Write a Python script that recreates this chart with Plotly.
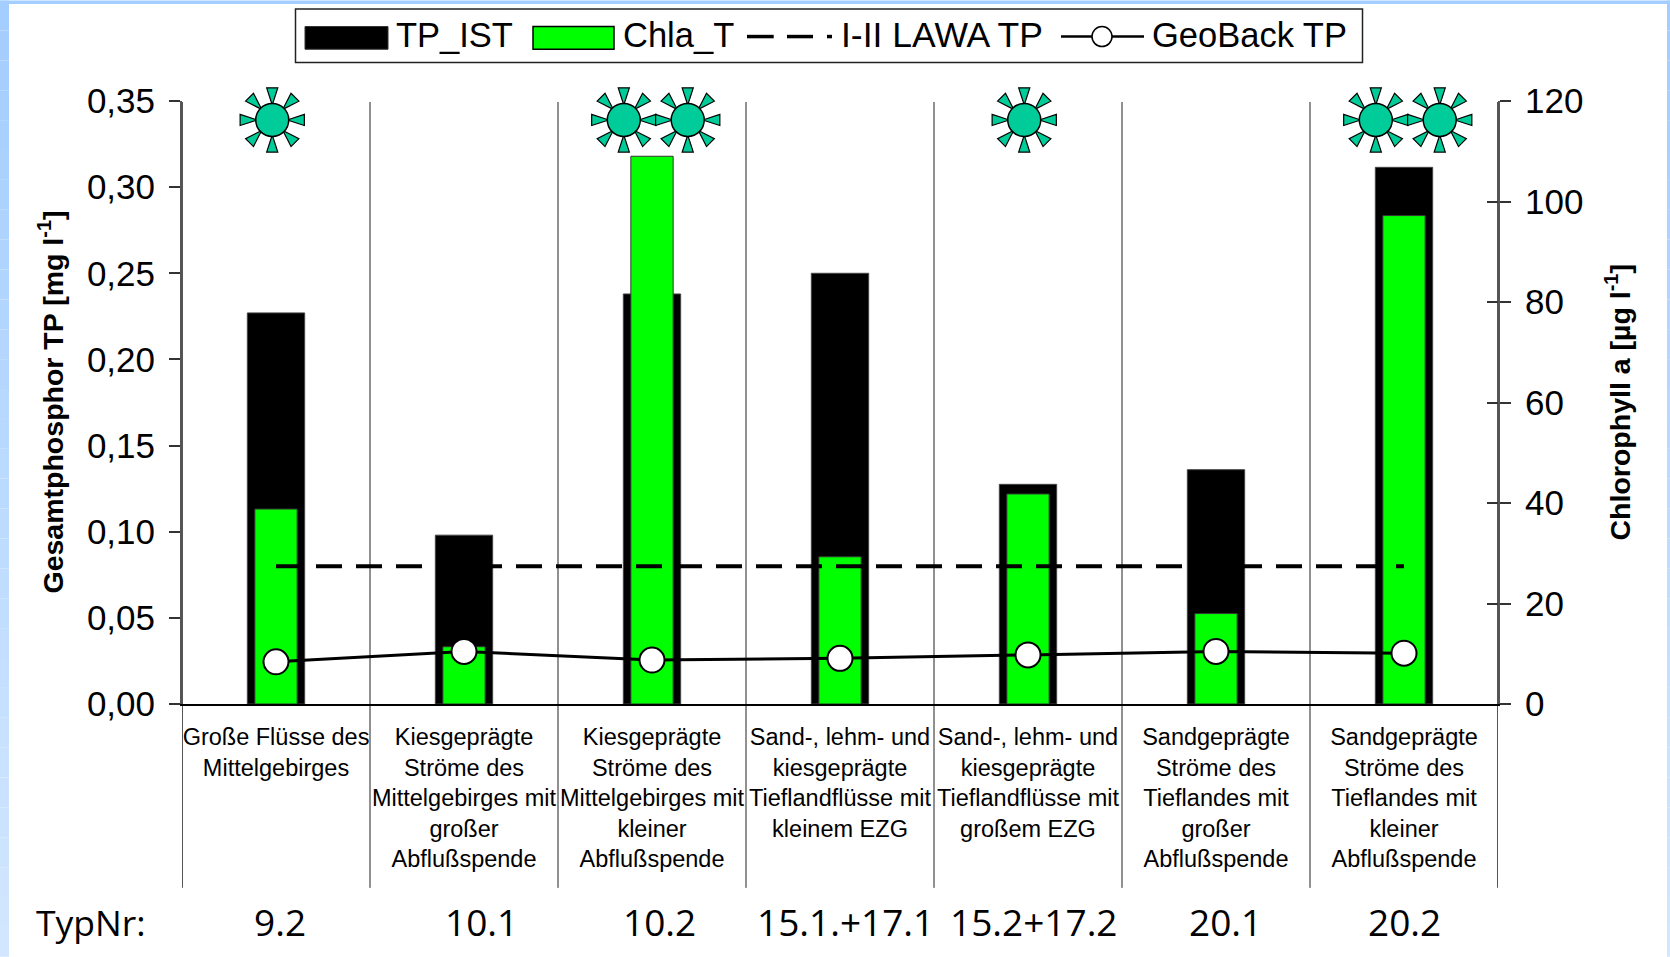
import plotly.graph_objects as go

categories = [
    "Große Flüsse des<br>Mittelgebirges",
    "Kiesgeprägte<br>Ströme des<br>Mittelgebirges mit<br>großer<br>Abflußspende",
    "Kiesgeprägte<br>Ströme des<br>Mittelgebirges mit<br>kleiner<br>Abflußspende",
    "Sand-, lehm- und<br>kiesgeprägte<br>Tieflandflüsse mit<br>kleinem EZG",
    "Sand-, lehm- und<br>kiesgeprägte<br>Tieflandflüsse mit<br>großem EZG",
    "Sandgeprägte<br>Ströme des<br>Tieflandes mit<br>großer<br>Abflußspende",
    "Sandgeprägte<br>Ströme des<br>Tieflandes mit<br>kleiner<br>Abflußspende",
]
typ_nr = ["9.2", "10.1", "10.2", "15.1.+17.1", "15.2+17.2", "20.1", "20.2"]
typ_nr_x = [280, 481, 659, 845, 1034, 1225, 1404]
tp_ist = [0.227, 0.098, 0.238, 0.250, 0.1275, 0.136, 0.3115]
chla_t = [38.8, 11.4, 109.0, 29.3, 41.8, 18.0, 97.2]
lawa_tp = [0.08] * 7
geoback_tp = [0.0245, 0.0305, 0.0255, 0.0265, 0.0285, 0.0305, 0.0295]
sun_x = [-0.02, 1.85, 2.19, 3.98, 5.85, 6.19]
sun_y = [0.339] * 6
ray_angles = [0, 45, 90, 135, 180, 225, 270, 315]
y1_ticks = [0, 0.05, 0.10, 0.15, 0.20, 0.25, 0.30, 0.35]
y2_ticks = [0, 20, 40, 60, 80, 100, 120]

FONT = "Liberation Sans"
L, R, T, B = 182, 1498, 100.5, 704
px = lambda v: (v - L) / (R - L)
py = lambda v: (B - v) / (B - T)
x_pos = list(range(len(categories)))

fig = go.Figure()
fig.add_bar(x=x_pos, y=tp_ist, width=0.305, name="TP_IST", marker=dict(color="black", line=dict(color="#444", width=1)))
fig.add_bar(x=x_pos, y=chla_t, width=0.225, name="Chla_T", yaxis="y2",
            marker=dict(color="#00FF00", line=dict(color="#333", width=1)))
fig.add_scatter(x=x_pos, y=lawa_tp, mode="lines", name="I-II LAWA TP", yaxis="y3",
                line=dict(color="black", width=4, dash="26px,14px"))
fig.add_scatter(x=x_pos, y=geoback_tp, mode="lines+markers", name="GeoBack TP", yaxis="y3",
                line=dict(color="black", width=3),
                marker=dict(symbol="circle", size=25, color="white", line=dict(color="black", width=2)))
# suns: rays pushed outwards from the centre, then the disc
ray_x = [x for x in sun_x for _ in ray_angles]
ray_y = [y for y in sun_y for _ in ray_angles]
ray_a = [a for _ in sun_x for a in ray_angles]
fig.add_scatter(x=ray_x, y=ray_y, mode="markers", yaxis="y3", hoverinfo="skip", cliponaxis=False,
                marker=dict(symbol="arrow", size=18, color="#00CC99", angle=ray_a, standoff=15,
                            line=dict(color="black", width=1.2)))
fig.add_scatter(x=sun_x, y=sun_y, mode="markers", yaxis="y3", hoverinfo="skip", cliponaxis=False,
                marker=dict(symbol="circle", size=33, color="#00CC99", line=dict(color="black", width=1.5)))
# carrier for the inward half of the right-hand ticks
fig.add_scatter(x=[0], y=[0], mode="none", yaxis="y4", hoverinfo="skip")

shapes = []
steps = 32
for i in range(steps):
    t = i / (steps - 1)
    col = f"rgb({int(164 + t * 46)},{int(206 + t * 25)},255)"
    shapes.append(dict(type="rect", xref="paper", yref="paper", layer="below", line_width=0, fillcolor=col,
                       x0=px(0), x1=px(9), y0=py(i * 957 / steps), y1=py((i + 1) * 957 / steps)))
    shapes.append(dict(type="rect", xref="paper", yref="paper", layer="below", line_width=0, fillcolor=col,
                       x0=px(1667), x1=px(1670), y0=py(i * 957 / steps), y1=py((i + 1) * 957 / steps)))
shapes.append(dict(type="rect", xref="paper", yref="paper", layer="below", line_width=0, fillcolor="#A4CEFF",
                   x0=px(0), x1=px(1670), y0=py(0), y1=py(3.3)))
# category separators
for i in range(len(categories) + 1):
    edge = i in (0, len(categories))
    shapes.append(dict(type="line", xref="x", yref="paper", layer="below", x0=i - 0.5, x1=i - 0.5,
                       y0=py(888), y1=py(101.5), line=dict(color="#555" if edge else "#222", width=2 if edge else 1)))
# legend box and keys
shapes += [
    dict(type="rect", xref="paper", yref="paper", x0=px(295.5), x1=px(1362.5), y0=py(62), y1=py(8.5),
         fillcolor="white", line=dict(color="#222", width=1.5)),
    dict(type="rect", xref="paper", yref="paper", x0=px(305), x1=px(388), y0=py(48.7), y1=py(26),
         fillcolor="black", line=dict(color="#333", width=1)),
    dict(type="rect", xref="paper", yref="paper", x0=px(533), x1=px(614), y0=py(48.7), y1=py(26),
         fillcolor="#00FF00", line=dict(color="black", width=1.5)),
    dict(type="line", xref="paper", yref="paper", x0=px(747), x1=px(773.7), y0=py(36), y1=py(36),
         line=dict(color="black", width=3.5)),
    dict(type="line", xref="paper", yref="paper", x0=px(787), x1=px(813), y0=py(36), y1=py(36),
         line=dict(color="black", width=3.5)),
    dict(type="line", xref="paper", yref="paper", x0=px(827), x1=px(832), y0=py(36), y1=py(36),
         line=dict(color="black", width=3.5)),
    dict(type="line", xref="paper", yref="paper", x0=px(1061), x1=px(1144), y0=py(36), y1=py(36),
         line=dict(color="black", width=2.5)),
    dict(type="circle", xref="paper", yref="paper", x0=px(1092), x1=px(1112), y0=py(46), y1=py(26),
         fillcolor="white", line=dict(color="black", width=1.5)),
]

annotations = []
for text, x0, size in [("TP_IST", 394, 34.5), ("Chla_T", 621, 34.5), ("I-II LAWA TP", 839, 35.5), ("GeoBack TP", 1150, 34.5)]:
    annotations.append(dict(text=text, xref="paper", yref="paper", x=px(x0), y=py(34.5), xanchor="left", yanchor="middle",
                            showarrow=False, font=dict(family=FONT, size=size, color="black")))
annotations.append(dict(text="TypNr:", xref="paper", yref="paper", x=px(91), y=py(922), xanchor="center", yanchor="middle",
                        showarrow=False, font=dict(family="Open Sans", size=35.5, color="black")))
for text, x0 in zip(typ_nr, typ_nr_x):
    annotations.append(dict(text=text, xref="paper", yref="paper", x=px(x0), y=py(922), xanchor="center", yanchor="middle",
                            showarrow=False, font=dict(family="Open Sans", size=37, color="black")))
annotations.append(dict(text="<b>Chlorophyll a [µg l<sup>-1</sup>]</b>", xref="paper", yref="paper", x=px(1618), y=0.5,
                        xanchor="center", yanchor="middle", textangle=-90, showarrow=False,
                        font=dict(family=FONT, size=28.5, color="black")))
annotations.append(dict(text="<b>Gesamtphosphor TP [mg l<sup>-1</sup>]</b>", xref="paper", yref="paper", x=px(51), y=0.5,
                        xanchor="center", yanchor="middle", textangle=-90, showarrow=False,
                        font=dict(family=FONT, size=28.5, color="black")))

axis_line = dict(showline=True, linecolor="#555", linewidth=2, showgrid=False, zeroline=False)
fig.update_layout(
    width=1670, height=957, autosize=False,
    margin=dict(l=L, r=1670 - R, t=T, b=957 - B, pad=0),
    paper_bgcolor="white", plot_bgcolor="rgba(0,0,0,0)",
    barmode="overlay", showlegend=False, separators=",.",
    font=dict(family=FONT, color="black"),
    shapes=shapes, annotations=annotations,
    xaxis=dict(range=[-0.5, 6.5], tickmode="array", tickvals=x_pos, ticktext=categories,
               tickfont=dict(family=FONT, size=23.5), ticks="outside", ticklen=11, tickcolor="rgba(0,0,0,0)",
               showline=True, linecolor="black", linewidth=1.5, showgrid=False, zeroline=False, automargin=False),
    yaxis=dict(range=[0, 0.35], tickmode="array", tickvals=y1_ticks, tickformat=".2f",
               tickfont=dict(family=FONT, size=35), ticks="outside", ticklen=11, tickcolor="#333", tickwidth=1.5,
               ticklabelstandoff=7, automargin=False, **axis_line),
    yaxis2=dict(range=[0, 120], overlaying="y", side="right", tickmode="array", tickvals=y2_ticks,
                tickfont=dict(family=FONT, size=35), ticks="outside", ticklen=11, tickcolor="#333", tickwidth=1.5,
                ticklabelstandoff=7, automargin=False, **axis_line),
    yaxis3=dict(range=[0, 0.35], overlaying="y", visible=False),
    yaxis4=dict(range=[0, 120], overlaying="y", side="right", tickmode="array", tickvals=y2_ticks,
                showticklabels=False, ticks="inside", ticklen=11, tickcolor="#333", tickwidth=1.5,
                showline=False, showgrid=False, zeroline=False),
)
fig.write_html("out.html", config=dict(displayModeBar=False),
               post_script="document.body.style.margin='0';document.body.style.overflow='hidden';")
